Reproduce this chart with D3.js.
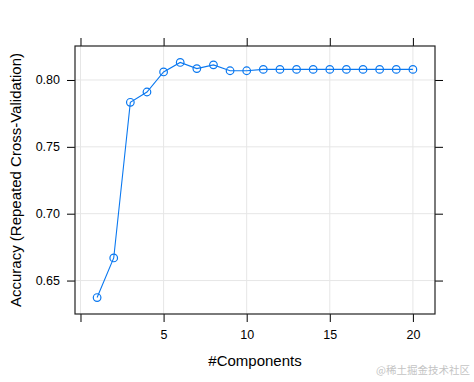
<!DOCTYPE html>
<html>
<head>
<meta charset="utf-8">
<script src="https://cdn.jsdelivr.net/npm/d3@7"></script>
<style>
  html, body { margin: 0; padding: 0; background: #fff; }
  svg { display: block; font-family: "Liberation Sans", Arial, sans-serif; }
</style>
</head>
<body>
<div id="chart"></div>
<script>
// Accuracy vs number of components (repeated cross-validation)
const components = [1, 2, 3, 4, 5, 6, 7, 8, 9, 10, 11, 12, 13, 14, 15, 16, 17, 18, 19, 20];
const accuracy   = [0.6373, 0.6669, 0.7833, 0.7910, 0.8060, 0.8131, 0.8085, 0.8113, 0.8069, 0.8069,
                    0.8079, 0.8079, 0.8079, 0.8079, 0.8079, 0.8079, 0.8079, 0.8079, 0.8079, 0.8079];
const xTicks = [0, 5, 10, 15, 20];
const yTicks = [0.65, 0.70, 0.75, 0.80];

const W = 474, H = 382;
const margin = { top: 46, right: 39, bottom: 68, left: 75 };
const iW = W - margin.left - margin.right;
const iH = H - margin.top - margin.bottom;

const data = components.map((c, i) => ({ c, a: accuracy[i] }));

// lattice-style padding: 7% of the data range on each side
const xExt = d3.extent(components), yExt = d3.extent(accuracy);
const xPad = (xExt[1] - xExt[0]) * 0.07, yPad = (yExt[1] - yExt[0]) * 0.07;

const x = d3.scaleLinear().domain([xExt[0] - xPad, xExt[1] + xPad]).range([0, iW]);
const y = d3.scaleLinear().domain([yExt[0] - yPad, yExt[1] + yPad]).range([iH, 0]);

const svg = d3.select("#chart").append("svg")
  .attr("width", W).attr("height", H);

const g = svg.append("g").attr("transform", `translate(${margin.left},${margin.top})`);

// grid
g.append("g").selectAll("line").data(xTicks).join("line")
  .attr("x1", d => x(d)).attr("x2", d => x(d))
  .attr("y1", 0).attr("y2", iH)
  .attr("stroke", "#e6e6e6").attr("stroke-width", 1);
g.append("g").selectAll("line").data(yTicks).join("line")
  .attr("x1", 0).attr("x2", iW)
  .attr("y1", d => y(d)).attr("y2", d => y(d))
  .attr("stroke", "#e6e6e6").attr("stroke-width", 1);

// axes: ticks on all four sides, labels only left and bottom
const tickLen = 8;
const styleAxis = sel => {
  sel.select(".domain").remove();
  sel.selectAll(".tick line").attr("stroke", "#000");
  sel.selectAll(".tick text")
    .attr("fill", "#000").attr("font-size", 12.5)
    .attr("font-family", "'Liberation Sans', Arial, sans-serif");
};

g.append("g")
  .attr("transform", `translate(0,${iH})`)
  .call(d3.axisBottom(x).tickValues(xTicks).tickSize(tickLen).tickPadding(8)
    .tickFormat(d => d === 0 ? "" : d))
  .call(styleAxis);

g.append("g")
  .call(d3.axisTop(x).tickValues(xTicks).tickSize(tickLen).tickFormat(""))
  .call(styleAxis);

g.append("g")
  .call(d3.axisLeft(y).tickValues(yTicks).tickSize(tickLen).tickPadding(7)
    .tickFormat(d3.format(".2f")))
  .call(styleAxis);

g.append("g")
  .attr("transform", `translate(${iW},0)`)
  .call(d3.axisRight(y).tickValues(yTicks).tickSize(tickLen).tickFormat(""))
  .call(styleAxis);

// panel border
g.append("rect")
  .attr("x", 0).attr("y", 0).attr("width", iW).attr("height", iH)
  .attr("fill", "none").attr("stroke", "#222").attr("stroke-width", 1.2);

// line + open circles
g.append("path")
  .datum(data)
  .attr("fill", "none")
  .attr("stroke", "#0a78f0")
  .attr("stroke-width", 1.1)
  .attr("d", d3.line().x(d => x(d.c)).y(d => y(d.a)));

g.selectAll(".pt").data(data).join("circle")
  .attr("class", "pt")
  .attr("cx", d => x(d.c)).attr("cy", d => y(d.a))
  .attr("r", 3.8)
  .attr("fill", "none")
  .attr("stroke", "#0a78f0")
  .attr("stroke-width", 1.2);

// axis titles
svg.append("text")
  .attr("x", margin.left + iW / 2).attr("y", 366)
  .attr("text-anchor", "middle").attr("font-size", 15).attr("fill", "#000")
  .text("#Components");

svg.append("text")
  .attr("transform", `translate(21,${margin.top + iH / 2}) rotate(-90)`)
  .attr("text-anchor", "middle").attr("font-size", 15).attr("fill", "#000")
  .text("Accuracy (Repeated Cross-Validation)");

// watermark
svg.append("text")
  .attr("x", 470).attr("y", 374)
  .attr("text-anchor", "end").attr("font-size", 10.5).attr("fill", "#c4c4c4")
  .attr("font-family", "'Noto Sans CJK SC', sans-serif")
  .text("@稀土掘金技术社区");
</script>
</body>
</html>
